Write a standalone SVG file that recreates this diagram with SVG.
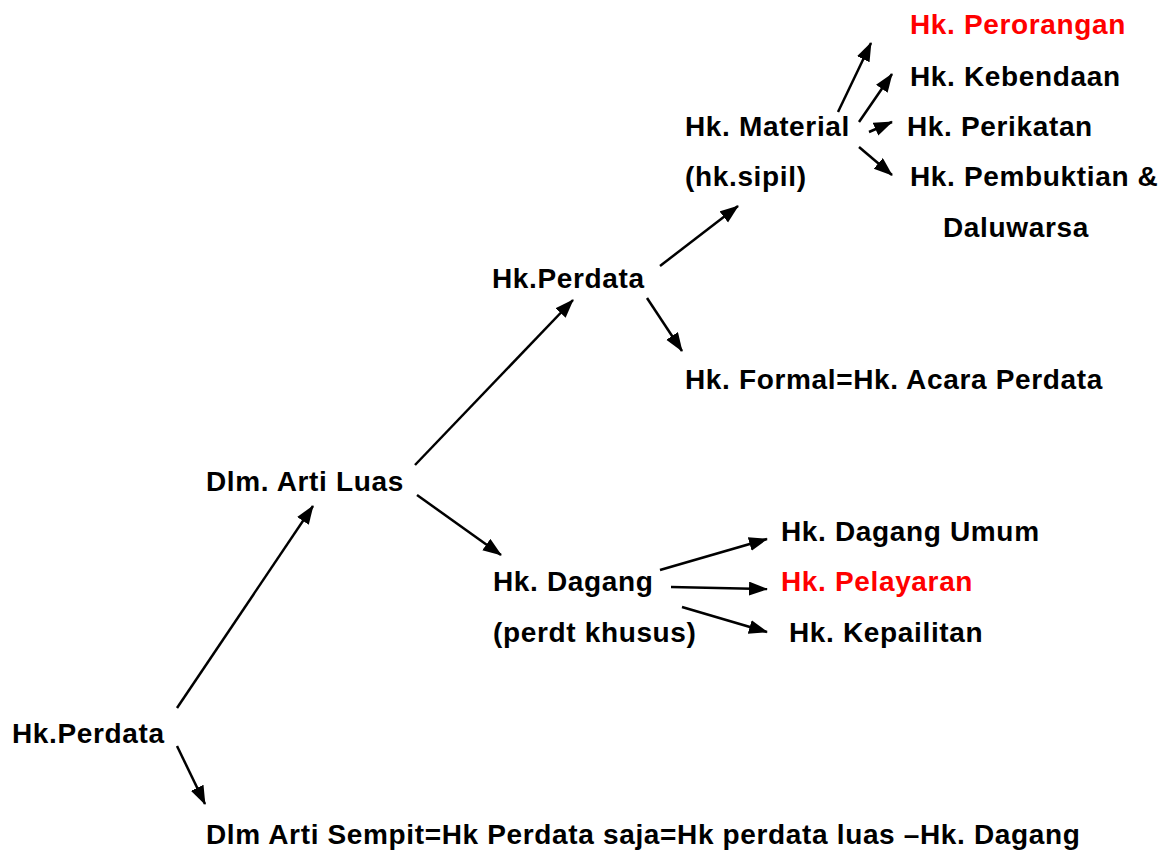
<svg xmlns="http://www.w3.org/2000/svg" width="1161" height="850" viewBox="0 0 1161 850">
<style>
text{font-family:"Liberation Sans",Arial,sans-serif;font-weight:bold;font-size:28px;letter-spacing:0.65px;fill:#000}
text.red{fill:#FF0000}
.c line{stroke:#000;stroke-width:2.5;marker-end:url(#ah)}
</style>
<defs>
<marker id="ah" markerUnits="userSpaceOnUse" markerWidth="19" markerHeight="15" refX="18" refY="7" orient="auto">
<path d="M0,0 L19,7 L0,14 z" fill="#000"/>
</marker>
</defs>
<rect width="1161" height="850" fill="#fff"/>
<g id="n-perdata-root"><text x="12" y="743">Hk.Perdata</text></g>
<g id="n-sempit"><text x="206" y="844">Dlm Arti Sempit=Hk Perdata saja=Hk perdata luas –Hk. Dagang</text></g>
<g id="n-luas"><text x="206" y="491">Dlm. Arti Luas</text></g>
<g id="n-perdata"><text x="492" y="288">Hk.Perdata</text></g>
<g id="n-dagang"><text x="493" y="591">Hk. Dagang</text><text x="493" y="642">(perdt khusus)</text></g>
<g id="n-material"><text x="685" y="136">Hk. Material</text><text x="685" y="186">(hk.sipil)</text></g>
<g id="n-formal"><text x="685" y="389">Hk. Formal=Hk. Acara Perdata</text></g>
<g id="n-perorangan"><text class="red" x="910" y="34">Hk. Perorangan</text></g>
<g id="n-kebendaan"><text x="910" y="86">Hk. Kebendaan</text></g>
<g id="n-perikatan"><text x="907" y="136">Hk. Perikatan</text></g>
<g id="n-pembuktian"><text x="910" y="186">Hk. Pembuktian &amp;</text><text x="943" y="237">Daluwarsa</text></g>
<g id="n-dagang-umum"><text x="781" y="541">Hk. Dagang Umum</text></g>
<g id="n-pelayaran"><text class="red" x="781" y="591">Hk. Pelayaran</text></g>
<g id="n-kepailitan"><text x="789" y="642">Hk. Kepailitan</text></g>
<g id="connectors" class="c">
<line x1="177" y1="708" x2="313" y2="506"/>
<line x1="177" y1="746" x2="205" y2="804"/>
<line x1="415" y1="465" x2="573" y2="300"/>
<line x1="417" y1="495" x2="501" y2="555"/>
<line x1="660" y1="266" x2="738" y2="206"/>
<line x1="647" y1="298" x2="682" y2="351"/>
<line x1="838" y1="112" x2="871" y2="43"/>
<line x1="859" y1="122" x2="892" y2="74"/>
<line x1="869" y1="132" x2="892" y2="122"/>
<line x1="859" y1="147" x2="892" y2="175"/>
<line x1="660" y1="570" x2="767" y2="539"/>
<line x1="671" y1="587" x2="767" y2="589"/>
<line x1="682" y1="607" x2="767" y2="632"/>
</g>
</svg>
